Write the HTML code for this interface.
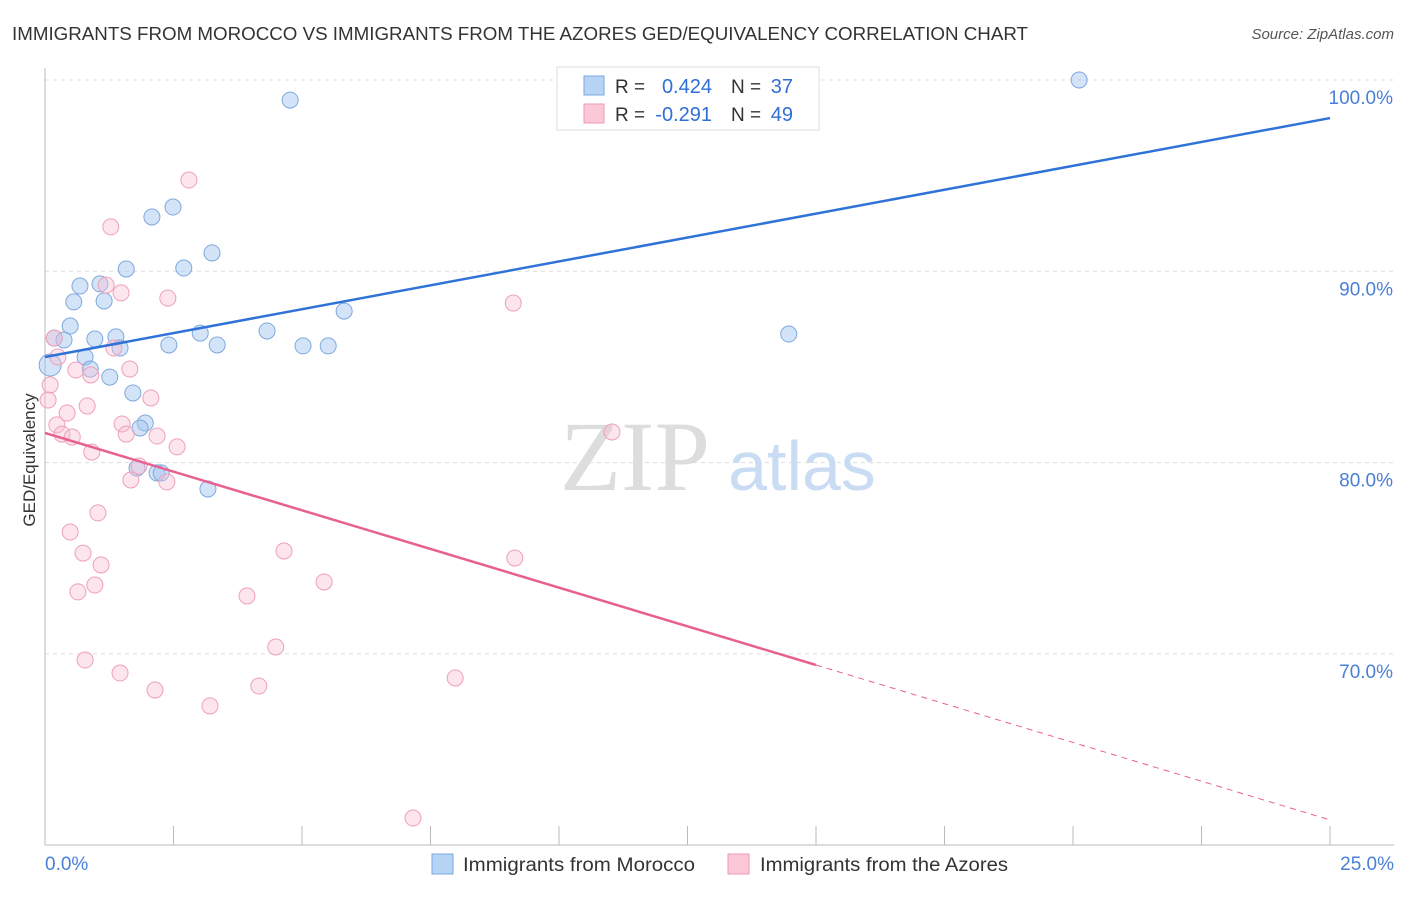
<!DOCTYPE html>
<html><head><meta charset="utf-8"><style>
body{margin:0;background:#fff;font-family:"Liberation Sans",sans-serif}
</style></head><body>
<svg width="1406" height="892" xmlns="http://www.w3.org/2000/svg">
<text x="12" y="40" font-size="18" fill="#333" textLength="1016" lengthAdjust="spacingAndGlyphs">IMMIGRANTS FROM MOROCCO VS IMMIGRANTS FROM THE AZORES GED/EQUIVALENCY CORRELATION CHART</text>
<text x="1394" y="39" font-size="15" fill="#555" font-style="italic" text-anchor="end">Source: ZipAtlas.com</text>
<g id="grid"></g>
<text x="635" y="490" font-size="100" fill="#ddd" font-family="Liberation Serif,serif" text-anchor="middle">ZIP</text>
<text x="802" y="490" font-size="70" fill="#c9dcf3" text-anchor="middle">atlas</text>
<text x="35" y="460" font-size="17" fill="#333" text-anchor="middle" transform="rotate(-90 35 460)">GED/Equivalency</text>
<g id="marks"></g>
<g>
<rect x="557" y="67" width="262" height="63" fill="#fff" stroke="#ddd"/>
<rect x="584" y="76" width="20" height="19" fill="#b8d4f5" stroke="#7aa7e0"/>
<rect x="584" y="104" width="20" height="19" fill="#fbc8d8" stroke="#ee9ab5"/>
<text x="615" y="93" font-size="19" fill="#333">R =</text>
<text x="712" y="93" font-size="20" fill="#2f6fd6" text-anchor="end">0.424</text>
<text x="731" y="93" font-size="19" fill="#333">N =</text>
<text x="793" y="93" font-size="20" fill="#2f6fd6" text-anchor="end">37</text>
<text x="615" y="121" font-size="19" fill="#333">R =</text>
<text x="712" y="121" font-size="20" fill="#2f6fd6" text-anchor="end">-0.291</text>
<text x="731" y="121" font-size="19" fill="#333">N =</text>
<text x="793" y="121" font-size="20" fill="#2f6fd6" text-anchor="end">49</text>
</g>
<g>
<rect x="432" y="854" width="21" height="20" fill="#b8d4f5" stroke="#7aa7e0"/>
<text x="463" y="871" font-size="19" fill="#333" textLength="232" lengthAdjust="spacingAndGlyphs">Immigrants from Morocco</text>
<rect x="728" y="854" width="21" height="20" fill="#fbc8d8" stroke="#ee9ab5"/>
<text x="760" y="871" font-size="19" fill="#333" textLength="248" lengthAdjust="spacingAndGlyphs">Immigrants from the Azores</text>
</g>
</svg>
<script>
const xTicks=[0,2.5,5,7.5,10,12.5,15,17.5,20,22.5,25];
const yTicks=[100,90,80,70];
const yTickLabels=["100.0%","90.0%","80.0%","70.0%"];
const blueX=[20.12,4.77,2.08,2.49,3.25,1.58,2.70,0.68,1.07,0.56,1.15,5.82,0.49,4.32,3.02,14.47,0.18,0.37,0.97,1.38,2.41,3.35,5.02,5.51,1.46,0.78,0.10,0.88,1.26,1.71,1.95,1.85,1.79,2.18,2.26,3.17];
const blueY=[100.0,98.95,92.84,93.36,90.96,90.12,90.17,89.23,89.34,88.40,88.45,87.92,87.14,86.88,86.77,86.72,86.51,86.41,86.46,86.57,86.15,86.15,86.10,86.10,85.99,85.52,85.10,84.89,84.47,83.64,82.07,81.81,79.72,79.46,79.46,78.62];
const pinkX=[2.80,1.28,2.39,1.48,1.19,9.11,0.18,1.34,0.25,0.60,0.89,1.65,0.10,0.06,2.06,0.82,0.43,0.23,1.50,0.33,0.53,1.58,2.18,11.03,2.57,0.91,1.83,1.67,2.37,1.03,0.49,0.74,4.65,9.14,1.09,0.97,5.43,0.64,3.93,4.49,0.78,1.46,7.98,4.16,2.14,3.21,7.16];
const pinkY=[94.77,92.32,88.60,88.87,89.28,88.34,86.51,85.99,85.52,84.84,84.58,84.89,84.06,83.27,83.38,82.96,82.59,81.97,82.02,81.49,81.34,81.49,81.39,81.60,80.82,80.55,79.82,79.09,78.99,77.37,76.37,75.27,75.38,75.01,74.65,73.60,73.76,73.24,73.03,70.36,69.68,69.00,68.74,68.32,68.11,67.28,61.42];
const blueTrend=[85.52,98.01];
const pinkTrend=[81.55,69.42,61.32];
const X=v=>45+v*51.4, Y=v=>80+(100-v)*19.13;
const NS="http://www.w3.org/2000/svg";
function mk(t,a,p){const e=document.createElementNS(NS,t);for(const k in a)e.setAttribute(k,a[k]);p.appendChild(e);return e;}
const g=document.getElementById('grid'), m=document.getElementById('marks');
yTicks.forEach((v,i)=>{
 const l=mk('line',{x1:45,x2:1394,y1:Y(v),y2:Y(v),stroke:'#ddd','stroke-dasharray':'4,4'},g);
 
 
 const t=mk('text',{x:1393,y:Y(v)+24,'font-size':19,fill:'#4a7fd6','text-anchor':'end'},g);
 t.textContent=yTickLabels[i];
 
 
});
const ax=mk('path',{d:'M45,68V845H1394',fill:'none',stroke:'#bbb'},g);


xTicks.slice(1).forEach(v=>{const l=mk('line',{x1:X(v),x2:X(v),y1:826,y2:845,stroke:'#bbb'},g);
 
 });
[[0,'0.0%','start',45],[25,'25.0%','end',1394]].forEach(a=>{const t=mk('text',{x:a[3],y:870,'font-size':19,fill:'#4a7fd6','text-anchor':a[2]},g);t.textContent=a[1];
 
 });
blueX.forEach((x,i)=>{const c=mk('circle',{cx:X(x),cy:Y(blueY[i]),r:i==26?11:8,fill:'rgba(160,196,240,0.45)',stroke:'#7fa8dd','stroke-width':1},m);
 
 });
pinkX.forEach((x,i)=>{const c=mk('circle',{cx:X(x),cy:Y(pinkY[i]),r:8,fill:'rgba(248,190,210,0.4)',stroke:'#eea0ba','stroke-width':1},m);
 
 });
const bl=mk('line',{x1:X(0),y1:Y(blueTrend[0]),x2:X(25),y2:Y(blueTrend[1]),stroke:'#2f73d8','stroke-width':2.5},m);


const pl=mk('line',{x1:X(0),y1:Y(pinkTrend[0]),x2:X(15),y2:Y(pinkTrend[1]),stroke:'#e8608f','stroke-width':2.5},m);


const pd=mk('line',{x1:X(15),y1:Y(pinkTrend[1]),x2:X(25),y2:Y(pinkTrend[2]),stroke:'#e8608f','stroke-width':1,'stroke-dasharray':'6,5'},m);


</script>
</body></html>
